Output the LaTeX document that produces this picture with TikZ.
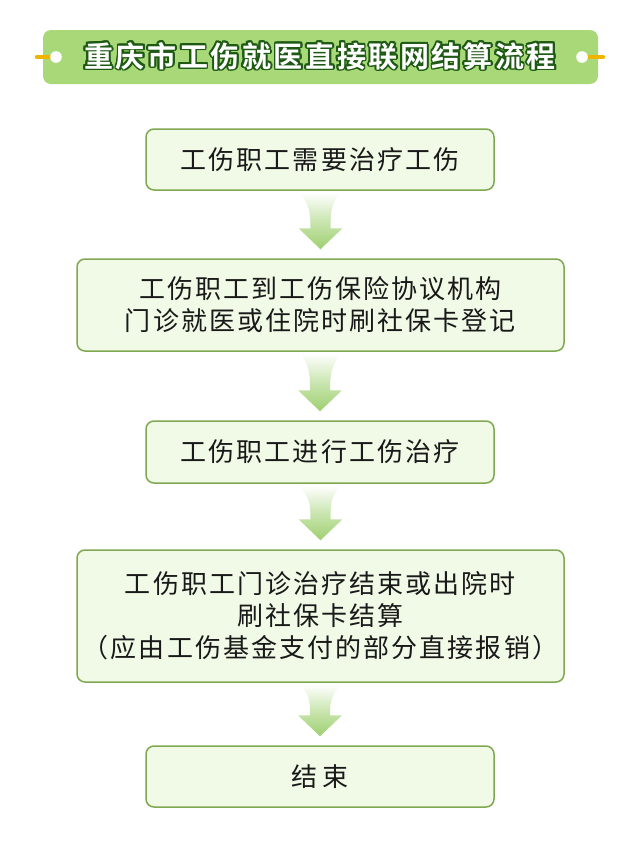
\documentclass[tikz,border=0pt]{standalone}
\usepackage{fontspec}
\usepackage{contour}
\usetikzlibrary{calc}
\newfontfamily\cjk[LetterSpace=8]{Noto Sans CJK SC}
\newfontfamily\cjkbold[LetterSpace=9]{Noto Sans CJK SC Bold}
\definecolor{titlegreen}{HTML}{A8D878}
\definecolor{titledark}{HTML}{1E5A14}
\definecolor{tagorange}{HTML}{F0B400}
\definecolor{boxfill}{HTML}{F0FAE6}
\definecolor{boxline}{HTML}{7FA850}
\definecolor{arrowgreen}{HTML}{9ED070}
\contourlength{1.8pt}

\begin{document}
\begin{tikzpicture}[x=1pt, y=-1pt,
    flowbox/.style={draw=boxline, fill=boxfill, line width=1.5pt, rounded corners=8pt,
      align=center, text=black!90, inner sep=0pt, font=\cjk\fontsize{26}{32}\selectfont},
    shortbox/.style={flowbox, minimum width=348pt, minimum height=61pt},
    longbox/.style={flowbox, minimum width=487pt}]
      \useasboundingbox (0, 0) rectangle (640, 844);
      % title bar
      \fill[titlegreen, rounded corners=8pt] (43, 30) rectangle (598, 84);
      \draw[tagorange, line width=4.5pt, line cap=round] (37, 57) -- (56, 57);
      \draw[tagorange, line width=4.5pt, line cap=round] (582, 57) -- (603, 57);
      \fill[white] (56, 57) circle (5.8);
      \fill[white] (582, 57) circle (5.8);
      \node[text=white, font=\cjkbold\fontsize{29}{34}\selectfont] (title) at (320, 57)
        {\contour{titledark}{重庆市工伤就医直接联网结算流程}};
      % steps
      \node[shortbox] (s1) at (320, 159.5) {工伤职工需要治疗工伤};
      \node[longbox, minimum height=92pt] (s2) at (320.5, 305)
        {工伤职工到工伤保险协议机构\\门诊就医或住院时刷社保卡登记};
      \node[shortbox, minimum height=62pt] (s3) at (320, 452) {工伤职工进行工伤治疗};
      \node[longbox, minimum height=132pt] (s4) at (320.5, 616)
        {工伤职工门诊治疗结束或出院时\\刷社保卡结算\\（应由工伤基金支付的部分直接报销）};
      \node[shortbox] (s5) at (320, 776.5) {结\,束};
      % arrows
      \foreach \a/\b in {s1/s2, s2/s3, s3/s4, s4/s5}
        \shade[top color=white, bottom color=arrowgreen, middle color=arrowgreen!55!white]
          ($(\a.south)+(-20, 2)$) .. controls ($(\a.south)+(-11, 14)$) and ($(\b.north)+(-10, -46)$)
          .. ($(\b.north)+(-10, -30)$) -- ($(\b.north)+(-22, -30)$) -- ($(\b.north)+(0, -9)$)
          -- ($(\b.north)+(22, -30)$) -- ($(\b.north)+(10, -30)$)
          .. controls ($(\b.north)+(10, -46)$) and ($(\a.south)+(11, 14)$) .. ($(\a.south)+(20, 2)$)
          -- cycle;
    \end{tikzpicture}
\end{document}
